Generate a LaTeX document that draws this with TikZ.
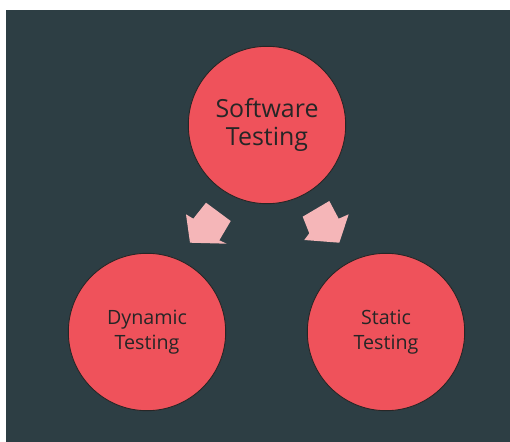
\documentclass[tikz,border=0pt]{standalone}
\usepackage{fontspec}
\setmainfont{Open Sans}
\usepackage{tikz}
\usetikzlibrary{positioning}
\definecolor{slate}{RGB}{45,62,68}
\definecolor{coral}{RGB}{239,82,91}
\definecolor{blush}{RGB}{245,182,184}
\tikzset{
  topic/.style={circle, draw=black!85, line width=0.5pt, fill=coral, minimum size=158pt*0.5669, inner sep=0pt, align=center, text=black!85},
  bigtext/.style={font=\fontsize{14.2}{16}\selectfont},
  smalltext/.style={font=\fontsize{11.2}{14}\selectfont},
  flow/.style={fill=blush}
}

\begin{document}
\begin{tikzpicture}[x=0.02cm, y=-0.02cm]
  \useasboundingbox (0,0) rectangle (510,442);
  \fill[slate] (6,10) rectangle (510,442);

  \node[topic,bigtext] (sw) at (267,125) {Software\\Testing};
  \node[topic,smalltext] (dyn) at (147,332) {Dynamic\\Testing};
  \node[topic,smalltext] (stat) at (386,332) {Static\\Testing};

  % block arrows
  \fill[flow] (206,202.7) -- (230.7,221) -- (219.3,240.3) -- (226.7,243.7)
    -- (190,242.7) -- (186,214.3) -- (193.3,218.7) -- cycle;
  \fill[flow] (329.3,201) -- (302.7,216.7) -- (309.3,233.3) -- (304.3,240)
    -- (339.3,242.7) -- (348.7,214.3) -- (338.7,218.7) -- cycle;
\end{tikzpicture}
\end{document}
